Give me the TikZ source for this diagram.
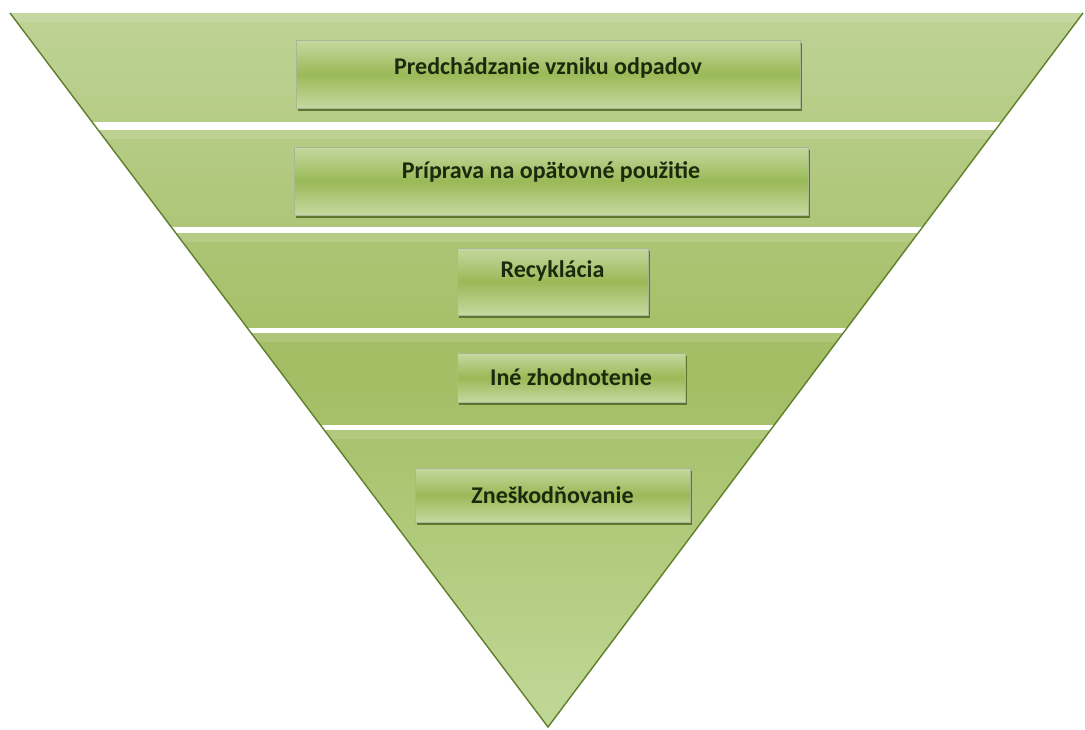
\documentclass[tikz,border=0pt]{standalone}
\usepackage{fontspec}
\setmainfont{Carlito}
\usetikzlibrary{shadows}
\definecolor{bandtop}{HTML}{BED395}
\definecolor{bandmid}{HTML}{A2BD63}
\definecolor{bandbot}{HTML}{C0D897}
\definecolor{edgegreen}{HTML}{5F7F2C}
\definecolor{boxlight}{HTML}{C4D9A0}
\definecolor{boxmid}{HTML}{9AB957}
\definecolor{boxshadow}{HTML}{556E29}
\definecolor{textdark}{HTML}{1B2A0C}
\tikzset{
  level/.style={draw=boxshadow!50, line width=0.5pt,
    top color=boxlight, bottom color=boxlight, middle color=boxmid,
    drop shadow={shadow xshift=1.5pt, shadow yshift=-3pt, fill=boxshadow, opacity=0.9},
    font=\fontsize{24}{28}\selectfont\bfseries, text=textdark, inner sep=0pt},
  gap/.style={fill=white}
}
\begin{document}
\begin{tikzpicture}[x=1pt,y=-1pt]
  \useasboundingbox (0,0) rectangle (1085,729);
  \shade[top color=bandtop, bottom color=bandbot, middle color=bandmid]
    (10,13) -- (1083,13) -- (548,727) -- cycle;
  \begin{scope}
    \clip (10,13) -- (1083,13) -- (548,727) -- cycle;
    \foreach \y/\h in {13/9, 130/9, 233/9, 333/9, 430/9}
      \fill[white, opacity=0.12] (0,\y) rectangle (1085,\y+\h);
    \foreach \y/\h in {122/8, 227/6, 328/5, 425/5}
      \fill[gap] (0,\y) rectangle (1085,\y+\h);
  \end{scope}
  \draw[edgegreen, line width=1.4pt] (10,13) -- (548,727) -- (1083,13);
  \node[level, minimum width=504, minimum height=68, text depth=16pt]
    (prevent) at (548,74) {Predchádzanie vzniku odpadov};
  \node[level, minimum width=514, minimum height=68, text depth=22pt]
    (reuse) at (551,181) {Príprava na opätovné použitie};
  \node[level, minimum width=191, minimum height=67, text depth=24pt]
    (recycle) at (552.5,281.5) {Recyklácia};
  \node[level, minimum width=228, minimum height=49]
    (recovery) at (571,377.5) {Iné zhodnotenie};
  \node[level, minimum width=275, minimum height=54]
    (disposal) at (552.5,495) {Zneškodňovanie};
\end{tikzpicture}
\end{document}
